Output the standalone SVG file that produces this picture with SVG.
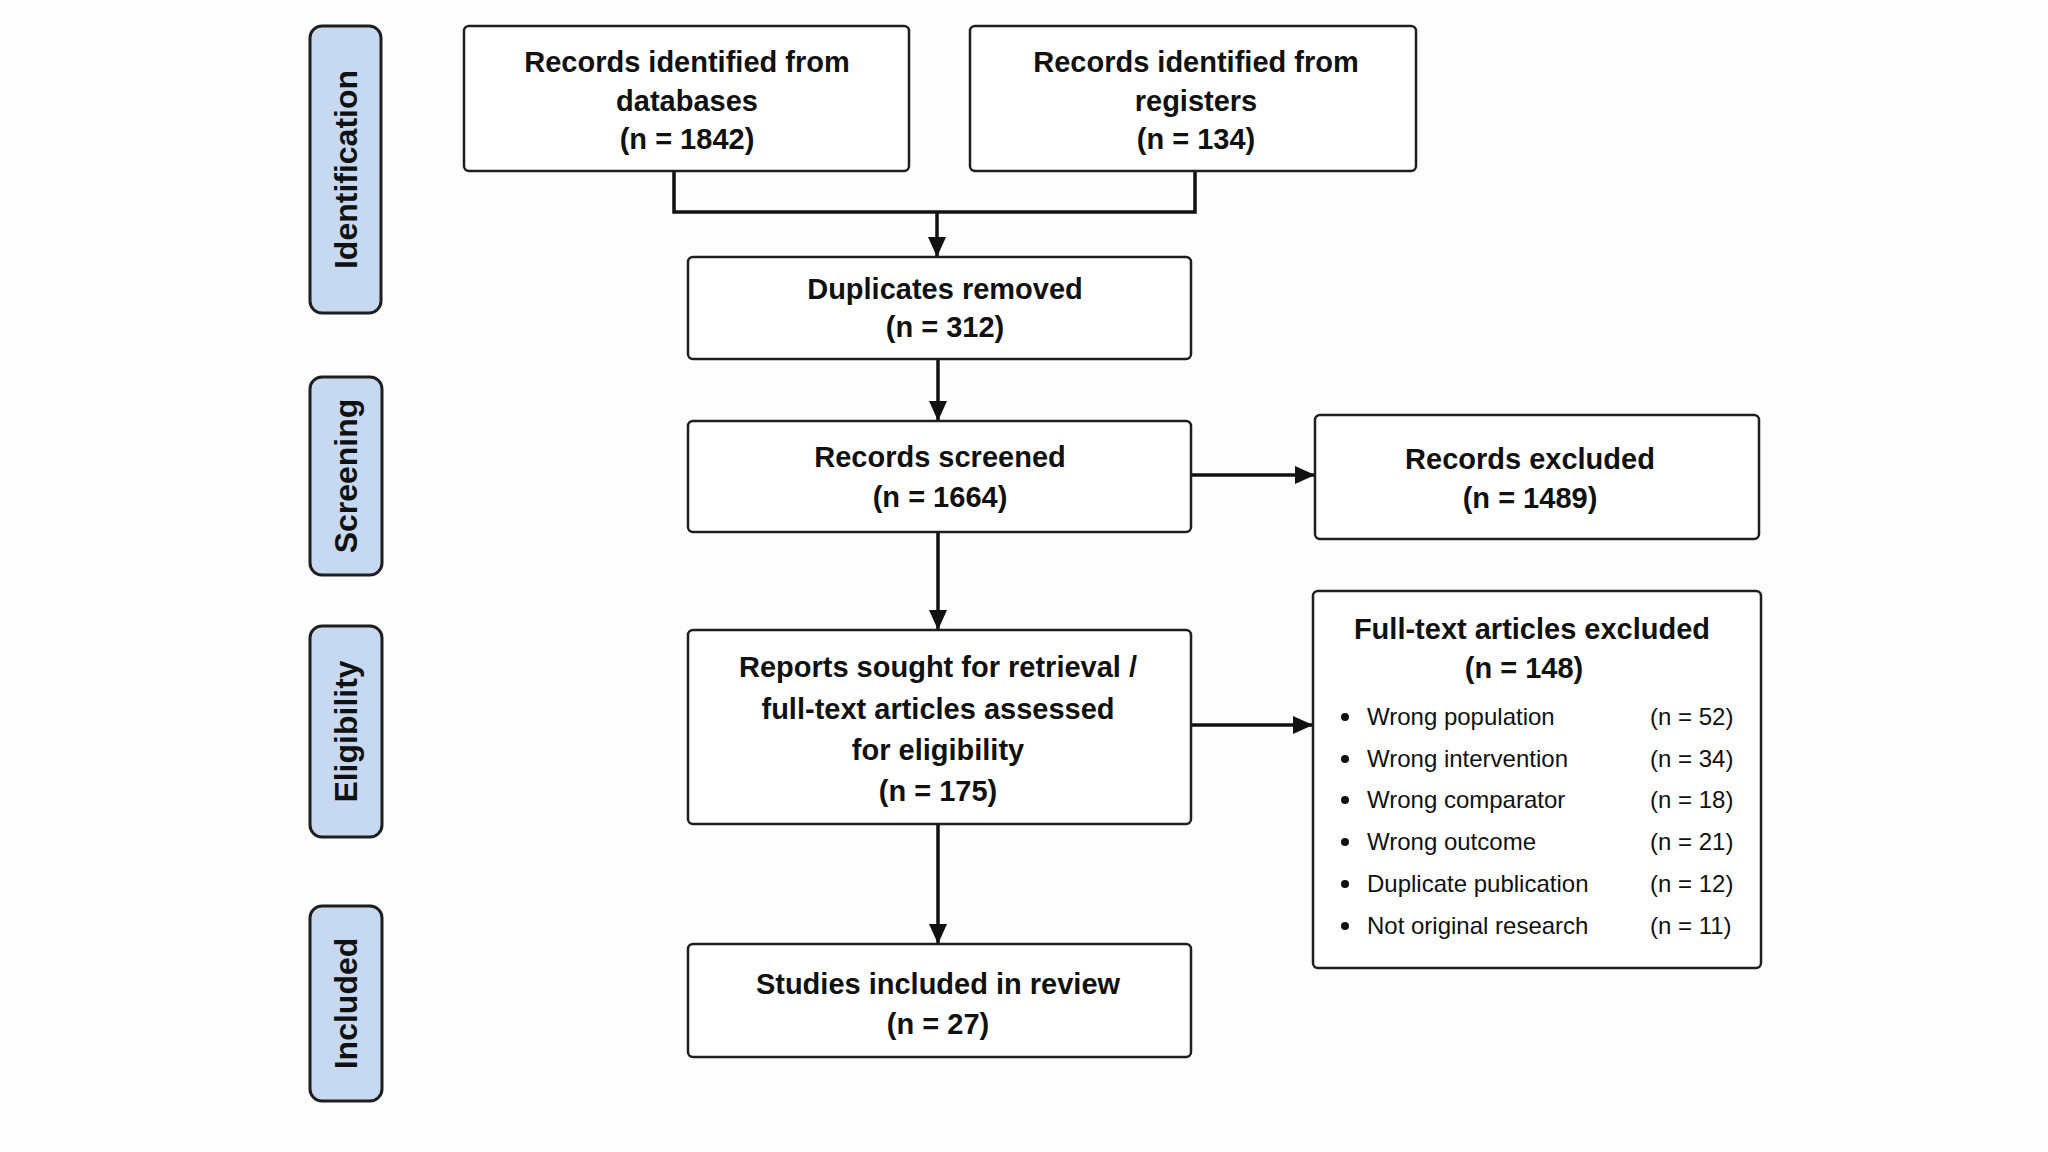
<svg xmlns="http://www.w3.org/2000/svg" width="2048" height="1152" viewBox="0 0 2048 1152">
<defs>
<style>
.phase rect{fill:#c6d9f1;stroke:#1e1e1e;stroke-width:3}
.phase text{font-family:"Liberation Sans",Arial,sans-serif;font-weight:bold;font-size:32px;fill:#111;text-anchor:middle}
.node rect{fill:#fff;stroke:#1e1e1e;stroke-width:2.5}
.node text{font-family:"Liberation Sans",Arial,sans-serif;font-weight:bold;font-size:29px;fill:#111;text-anchor:middle}
.node text.item{font-weight:normal;font-size:24px;text-anchor:start}
.conn path{fill:none;stroke:#111;stroke-width:3.5}
</style>
<marker id="arr" markerUnits="userSpaceOnUse" markerWidth="20" markerHeight="18" refX="20" refY="9" orient="auto">
<path d="M0,0 L20,9 L0,18 z" fill="#111"/>
</marker>
</defs>
<rect width="2048" height="1152" fill="#fdfdfd"/>

<g id="phase-identification" class="phase">
<rect x="310" y="26" width="71" height="287" rx="12"/>
<text transform="translate(357,169.5) rotate(-90)">Identification</text>
</g>
<g id="phase-screening" class="phase">
<rect x="310" y="377" width="72" height="198" rx="12"/>
<text transform="translate(357,476) rotate(-90)">Screening</text>
</g>
<g id="phase-eligibility" class="phase">
<rect x="310" y="626" width="72" height="211" rx="12"/>
<text transform="translate(357,731.5) rotate(-90)">Eligibility</text>
</g>
<g id="phase-included" class="phase">
<rect x="310" y="906" width="72" height="195" rx="12"/>
<text transform="translate(357,1003.5) rotate(-90)">Included</text>
</g>

<g id="connectors" class="conn">
<path d="M674,171 V212 H1195 V171"/>
<path d="M937,212 V257" marker-end="url(#arr)"/>
<path d="M938,359 V421" marker-end="url(#arr)"/>
<path d="M938,532 V630" marker-end="url(#arr)"/>
<path d="M938,824 V944" marker-end="url(#arr)"/>
<path d="M1191,475 H1315" marker-end="url(#arr)"/>
<path d="M1191,725 H1313" marker-end="url(#arr)"/>
</g>

<g id="node-databases" class="node">
<rect x="464" y="26" width="445" height="145" rx="5"/>
<text x="687" y="72">Records identified from</text>
<text x="687" y="111">databases</text>
<text x="687" y="149">(n = 1842)</text>
</g>
<g id="node-registers" class="node">
<rect x="970" y="26" width="446" height="145" rx="5"/>
<text x="1196" y="72">Records identified from</text>
<text x="1196" y="111">registers</text>
<text x="1196" y="149">(n = 134)</text>
</g>
<g id="node-duplicates" class="node">
<rect x="688" y="257" width="503" height="102" rx="5"/>
<text x="945" y="299">Duplicates removed</text>
<text x="945" y="337">(n = 312)</text>
</g>
<g id="node-screened" class="node">
<rect x="688" y="421" width="503" height="111" rx="5"/>
<text x="940" y="467">Records screened</text>
<text x="940" y="507">(n = 1664)</text>
</g>
<g id="node-records-excluded" class="node">
<rect x="1315" y="415" width="444" height="124" rx="5"/>
<text x="1530" y="469">Records excluded</text>
<text x="1530" y="508">(n = 1489)</text>
</g>
<g id="node-reports" class="node">
<rect x="688" y="630" width="503" height="194" rx="5"/>
<text x="938" y="677">Reports sought for retrieval /</text>
<text x="938" y="719">full-text articles assessed</text>
<text x="938" y="760">for eligibility</text>
<text x="938" y="801">(n = 175)</text>
</g>
<g id="node-fulltext-excluded" class="node">
<rect x="1313" y="591" width="448" height="377" rx="5"/>
<text x="1532" y="639">Full-text articles excluded</text>
<text x="1524" y="678">(n = 148)</text>
<g fill="#111">
<circle cx="1345" cy="717" r="4"/>
<circle cx="1345" cy="759" r="4"/>
<circle cx="1345" cy="800" r="4"/>
<circle cx="1345" cy="842" r="4"/>
<circle cx="1345" cy="884" r="4"/>
<circle cx="1345" cy="926" r="4"/>
</g>
<text class="item" x="1367" y="725">Wrong population</text>
<text class="item" x="1367" y="767">Wrong intervention</text>
<text class="item" x="1367" y="808">Wrong comparator</text>
<text class="item" x="1367" y="850">Wrong outcome</text>
<text class="item" x="1367" y="892">Duplicate publication</text>
<text class="item" x="1367" y="934">Not original research</text>
<text class="item" x="1650" y="725">(n = 52)</text>
<text class="item" x="1650" y="767">(n = 34)</text>
<text class="item" x="1650" y="808">(n = 18)</text>
<text class="item" x="1650" y="850">(n = 21)</text>
<text class="item" x="1650" y="892">(n = 12)</text>
<text class="item" x="1650" y="934">(n = 11)</text>
</g>
<g id="node-included" class="node">
<rect x="688" y="944" width="503" height="113" rx="5"/>
<text x="938" y="994">Studies included in review</text>
<text x="938" y="1034">(n = 27)</text>
</g>
</svg>
